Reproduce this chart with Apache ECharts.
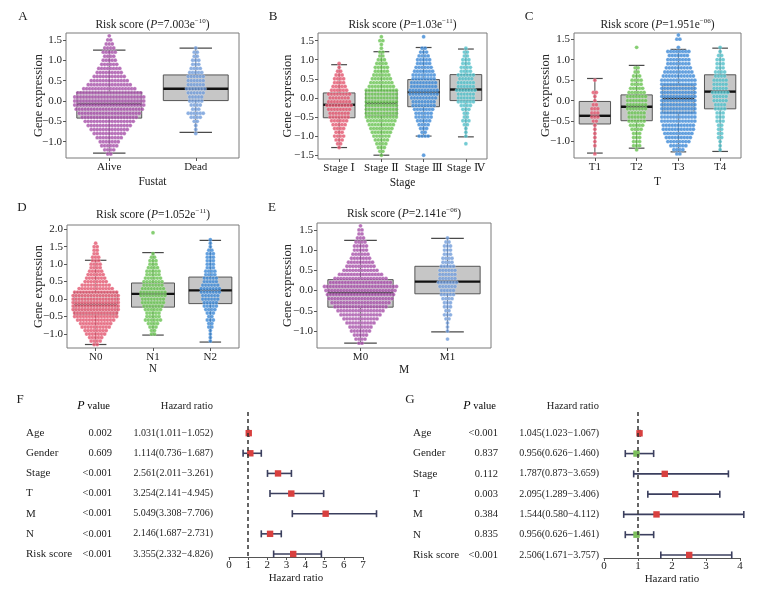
<!DOCTYPE html>
<html>
<head>
<meta charset="utf-8">
<script src="https://cdn.jsdelivr.net/npm/echarts@6.0.0/dist/echarts.min.js"></script>
<style>
html,body{margin:0;padding:0;background:#ffffff;}
#chart{width:762px;height:592px;}
</style>
</head>
<body>
<div id="chart"></div>
<script>
// ================= DATA =================
// Swarm data: number of samples in each 0.1-wide risk-score bin, bins centred at -1.6, -1.5, ... 1.9
const binLow = -1.6;
const binStep = 0.1;

// Panel A – Fustat
const catsA = ['Alive', 'Dead'];
const countsAlive = [0,0,0,2,4,6,7,9,11,13, 15,17,19,21,23,24,24,24,22,18, 15,13,11,9,8,6,5,4,5,4, 3,2,1,0,0,0];
const countsDead  = [0,0,0,0,0,0,0,0,1,1, 1,2,4,6,3,4,5,5,6,7, 6,6,6,5,4,3,3,2,2,1, 0,0,0,0,0,0];
const boxAlive = [-1.28, -0.42, -0.07, 0.22, 1.25];   // min, Q1, median, Q3, max
const boxDead  = [-0.77, 0.01, 0.30, 0.64, 1.30];

// Panel B – Stage
const catsB = ['Stage Ⅰ', 'Stage Ⅱ', 'Stage Ⅲ', 'Stage Ⅳ'];
const countsStage1 = [0,0,0,1,2,3,4,3,4,5, 6,7,7,8,9,8,7,8,6,5, 4,4,3,2,1,1,0,0,0,0, 0,0,0,0,0,0];
const countsStage2 = [0,1,2,3,4,5,6,7,8,9, 10,11,11,11,11,11,11,11,11,9, 8,7,6,5,5,4,3,2,2,1, 1,2,1,0,0,0];
const countsStage3 = [0,1,0,0,0,0,4,2,3,4, 5,6,6,7,8,8,9,10,10,9, 9,8,8,7,6,5,5,4,3,2, 0,0,1,0,0,0];
const countsStage4 = [0,0,0,0,1,0,1,1,1,2, 3,2,2,3,4,6,6,6,7,6, 6,5,6,4,4,3,3,2,2,1, 0,0,0,0,0,0];
const boxStage1 = [-1.30, -0.52, -0.18, 0.13, 0.87];
const boxStage2 = [-1.50, -0.47, -0.14, 0.19, 1.21];
const boxStage3 = [-1.00, -0.23, 0.15, 0.48, 1.32];
const boxStage4 = [-1.02, -0.07, 0.22, 0.61, 1.28];

// Panel C – T
const catsC = ['T1', 'T2', 'T3', 'T4'];
const countsT1 = [0,0,0,1,0,1,1,1,1,1, 1,2,3,3,3,2,1,1,2,0, 0,1,0,0,0,0,0,0,0,0, 0,0,0,0,0,0];
const countsT2 = [0,0,0,0,1,3,3,3,3,4, 5,6,6,6,7,7,7,7,6,5, 4,4,3,2,2,0,0,0,0,1, 0,0,0,0,0,0];
const countsT3 = [0,0,0,2,4,6,8,9,10,11, 11,12,12,12,12,12,12,12,12,12, 12,12,11,10,9,8,8,7,8,1, 0,2,1,0,0,0];
const countsT4 = [0,0,0,0,1,1,1,2,2,2, 2,3,3,3,4,4,5,5,6,5, 5,5,4,4,3,3,3,2,1,1, 0,0,0,0,0,0];
const boxT1 = [-1.28, -0.57, -0.37, -0.02, 0.54];
const boxT2 = [-1.16, -0.49, -0.15, 0.14, 0.86];
const boxT3 = [-1.25, -0.30, 0.05, 0.38, 1.25];
const boxT4 = [-1.24, -0.20, 0.22, 0.63, 1.28];

// Panel D – N
const catsD = ['N0', 'N1', 'N2'];
const countsN0 = [0,0,0,2,4,5,7,8,10,11, 13,15,15,16,16,16,16,16,15,12, 10,8,7,6,5,4,4,3,3,2, 2,2,1,0,0,0];
const countsN1 = [0,0,0,0,0,0,2,2,3,4, 6,5,5,6,7,8,8,9,9,8, 7,7,6,5,5,4,3,3,2,1, 0,0,0,0,0,1];
const countsN2 = [0,0,0,0,1,1,1,1,2,2, 3,2,3,4,5,5,6,6,7,7, 6,5,5,4,4,3,3,3,3,3, 2,1,1,1,0,0];
const boxN0 = [-1.30, -0.45, -0.16, 0.20, 1.11];
const boxN1 = [-1.03, -0.23, 0.15, 0.46, 1.33];
const boxN2 = [-1.23, -0.13, 0.25, 0.63, 1.68];

// Panel E – M
const catsE = ['M0', 'M1'];
const countsM0 = [0,0,0,2,4,5,7,8,10,12, 14,16,18,20,22,23,24,25,21,18, 15,12,10,9,7,6,5,5,4,3, 2,2,1,0,0,0];
const countsM1 = [0,0,0,0,1,0,1,1,1,2, 3,2,3,3,4,5,5,6,7,6, 6,6,5,4,4,3,3,3,2,1, 0,0,0,0,0,0];
const boxM0 = [-1.30, -0.41, -0.06, 0.27, 1.24];
const boxM1 = [-1.02, -0.08, 0.22, 0.60, 1.29];

// Titles (P values)
const titlePMant = ['7.003', '1.03', '1.951', '1.052', '2.141'];
const titlePExp  = ['−10', '−11', '−06', '−11', '−06'];

// Y tick labels
const yTicksA = [-1.0, -0.5, 0.0, 0.5, 1.0, 1.5];
const yTicksB = [-1.5, -1.0, -0.5, 0.0, 0.5, 1.0, 1.5];
const yTicksC = [-1.0, -0.5, 0.0, 0.5, 1.0, 1.5];
const yTicksD = [-1.0, -0.5, 0.0, 0.5, 1.0, 1.5, 2.0];
const yTicksE = [-1.0, -0.5, 0.0, 0.5, 1.0, 1.5];

// Forest plots
const forestVars = ['Age', 'Gender', 'Stage', 'T', 'M', 'N', 'Risk score'];
const uniP  = ['0.002', '0.609', '<0.001', '<0.001', '<0.001', '<0.001', '<0.001'];
const uniHR = [1.031, 1.114, 2.561, 3.254, 5.049, 2.146, 3.355];
const uniLo = [1.011, 0.736, 2.011, 2.141, 3.308, 1.687, 2.332];
const uniHi = [1.052, 1.687, 3.261, 4.945, 7.706, 2.731, 4.826];
const multiP  = ['<0.001', '0.837', '0.112', '0.003', '0.384', '0.835', '<0.001'];
const multiHR = [1.045, 0.956, 1.787, 2.095, 1.544, 0.956, 2.506];
const multiLo = [1.023, 0.626, 0.873, 1.289, 0.580, 0.626, 1.671];
const multiHi = [1.067, 1.460, 3.659, 3.406, 4.112, 1.461, 3.757];
const uniXTicks = [0, 1, 2, 3, 4, 5, 6, 7];
const multiXTicks = [0, 1, 2, 3, 4];

// ================= STYLE / LAYOUT =================
const FONT = "'Liberation Serif','DejaVu Serif','Noto Sans CJK SC',serif";
const TXT = '#222222';
const COL = {
  purple: '#a54ea8', lblue: '#6f9bd9', red: '#e2546d', green: '#66c24f',
  blue: '#3a87d6', cyan: '#4fbec8'
};
const DOT_GAP = 3.0;     // px between neighbouring dots in a swarm row
const DOT_SIZE = 3.9;

const panels = [
  {grid:{left:66, top:33, width:173, height:125}, ymin:-1.40, ymax:1.67, cats:catsA,
   counts:[countsAlive, countsDead], boxes:[boxAlive, boxDead], colors:[COL.purple, COL.lblue],
   yticks:yTicksA, xname:'Fustat', xGap:18, yGap:21, title:[152.5, 25], letter:['A', 23, 17]},
  {grid:{left:318, top:33, width:169, height:126}, ymin:-1.60, ymax:1.70, cats:catsB,
   counts:[countsStage1, countsStage2, countsStage3, countsStage4],
   boxes:[boxStage1, boxStage2, boxStage3, boxStage4], colors:[COL.red, COL.green, COL.blue, COL.cyan],
   yticks:yTicksB, xname:'Stage', xGap:18, yGap:24, title:[402.5, 25], letter:['B', 273, 17]},
  {grid:{left:574, top:33, width:167, height:125}, ymin:-1.40, ymax:1.65, cats:catsC,
   counts:[countsT1, countsT2, countsT3, countsT4], boxes:[boxT1, boxT2, boxT3, boxT4],
   colors:[COL.red, COL.green, COL.blue, COL.cyan],
   yticks:yTicksC, xname:'T', xGap:18, yGap:22.5, title:[657.5, 25], letter:['C', 529, 17]},
  {grid:{left:67, top:225, width:172, height:123}, ymin:-1.40, ymax:2.12, cats:catsD,
   counts:[countsN0, countsN1, countsN2], boxes:[boxN0, boxN1, boxN2],
   colors:[COL.red, COL.green, COL.blue],
   yticks:yTicksD, xname:'N', xGap:15, yGap:22.5, title:[153, 215], letter:['D', 22, 208]},
  {grid:{left:317, top:223, width:174, height:125}, ymin:-1.42, ymax:1.67, cats:catsE,
   counts:[countsM0, countsM1], boxes:[boxM0, boxM1], colors:[COL.purple, COL.lblue],
   yticks:yTicksE, xname:'M', xGap:16, yGap:23, title:[404, 214], letter:['E', 272, 208]}
];

function fmtTick(v) {
  const a = Math.abs(v).toFixed(1);
  return (v < -1e-9 ? '−' : '') + a;
}

// swarm layout: dots of one bin placed side by side around the category centre
function swarm(counts, cat, catW) {
  const pts = [];
  counts.forEach((c, i) => {
    const y = +(binLow + i * binStep).toFixed(2);
    for (let k = 0; k < c; k++) {
      const offPx = (k - (c - 1) / 2) * DOT_GAP;
      pts.push([cat + offPx / catW, y]);
    }
  });
  return pts;
}

function renderBox(params, api) {
  const x = api.value(0);
  const pMin = api.coord([x, api.value(1)]);
  const pQ1 = api.coord([x, api.value(2)]);
  const pMed = api.coord([x, api.value(3)]);
  const pQ3 = api.coord([x, api.value(4)]);
  const pMax = api.coord([x, api.value(5)]);
  const w = api.size([1, 0])[0] * 0.75;
  const cx = pMed[0];
  const wc = '#4a4a4a';
  return {
    type: 'group',
    children: [
      {type:'line', shape:{x1:cx, y1:pMin[1], x2:cx, y2:pQ1[1]}, style:{stroke:wc, lineWidth:1}},
      {type:'line', shape:{x1:cx, y1:pQ3[1], x2:cx, y2:pMax[1]}, style:{stroke:wc, lineWidth:1}},
      {type:'line', shape:{x1:cx - w/4, y1:pMin[1], x2:cx + w/4, y2:pMin[1]}, style:{stroke:wc, lineWidth:1.2}},
      {type:'line', shape:{x1:cx - w/4, y1:pMax[1], x2:cx + w/4, y2:pMax[1]}, style:{stroke:wc, lineWidth:1.2}},
      {type:'rect', shape:{x:cx - w/2, y:pQ3[1], width:w, height:pQ1[1] - pQ3[1]},
       style:{fill:'#c6c6c6', stroke:'#555555', lineWidth:1}},
      {type:'line', shape:{x1:cx - w/2, y1:pMed[1], x2:cx + w/2, y2:pMed[1]}, style:{stroke:'#111111', lineWidth:2.4}}
    ]
  };
}

const grids = [], xAxes = [], yAxes = [], series = [], graphics = [];

panels.forEach((p, g) => {
  grids.push({left:p.grid.left, top:p.grid.top, width:p.grid.width, height:p.grid.height,
    show:true, borderColor:'#7a7a7a', borderWidth:1, backgroundColor:'rgba(0,0,0,0)'});
  xAxes.push({type:'category', gridIndex:g, data:p.cats, boundaryGap:true, position:'bottom',
    name:p.xname, nameLocation:'middle', nameGap:p.xGap, nameMoveOverlap:false,
    nameTextStyle:{fontFamily:FONT, fontSize:11.5, color:TXT},
    axisLine:{show:false, onZero:false},
    axisTick:{show:true, alignWithLabel:true, length:3, lineStyle:{color:'#555'}},
    axisLabel:{fontFamily:FONT, fontSize:11, color:TXT, margin:4, interval:0},
    splitLine:{show:false}});
  xAxes.push({type:'value', gridIndex:g, min:-0.5, max:p.cats.length - 0.5, show:false,
    axisLine:{onZero:false}, splitLine:{show:false}});
  yAxes.push({type:'value', gridIndex:g, min:p.ymin, max:p.ymax, position:'left',
    name:'Gene expression', nameLocation:'middle', nameGap:p.yGap, nameMoveOverlap:false,
    nameTextStyle:{fontFamily:FONT, fontSize:12.5, color:TXT},
    axisLine:{show:false, onZero:false},
    axisTick:{show:true, length:3, customValues:p.yticks, lineStyle:{color:'#555'}},
    axisLabel:{customValues:p.yticks, formatter:fmtTick, fontFamily:FONT, fontSize:11, color:TXT, margin:4},
    splitLine:{show:false}});
  series.push({type:'custom', xAxisIndex:2*g, yAxisIndex:g, renderItem:renderBox, silent:true, z:1,
    encode:{x:0, y:[1,2,3,4,5]},
    data:p.boxes.map((b, i) => [i].concat(b))});
  const catW = p.grid.width / p.cats.length;
  p.counts.forEach((c, i) => {
    series.push({type:'scatter', xAxisIndex:2*g + 1, yAxisIndex:g, silent:true, z:3,
      symbol:'circle', symbolSize:DOT_SIZE,
      itemStyle:{color:p.colors[i], borderColor:'rgba(255,255,255,0.55)', borderWidth:0.5},
      data:swarm(c, i, catW)});
  });
  // title with italic P and superscript exponent
  graphics.push({type:'text', x:p.title[0], y:p.title[1], silent:true,
    style:{text:'{a|Risk score (}{i|P}{a|=' + titlePMant[g] + 'e}{s|' + titlePExp[g] + '}{a|)}',
      align:'center', verticalAlign:'middle', textAlign:'center', textVerticalAlign:'middle',
      fill:TXT,
      rich:{
        a:{fontFamily:FONT, fontSize:11.5, lineHeight:14, color:TXT},
        i:{fontFamily:FONT, fontSize:11.5, lineHeight:14, fontStyle:'italic', color:TXT},
        s:{fontFamily:FONT, fontSize:7, lineHeight:8, verticalAlign:'top', color:TXT}
      }}});
  graphics.push({type:'text', x:p.letter[1], y:p.letter[2], silent:true,
    style:{text:p.letter[0], font:'13px ' + FONT, fill:TXT, align:'center', verticalAlign:'middle',
      textAlign:'center', textVerticalAlign:'middle'}});
});

// ================= FOREST PLOTS =================
const RED = '#d8403f', GREEN = '#7cbf5c', NAVY = '#3b3f5e';
function renderForest(params, api) {
  const row = api.value(0), hr = api.value(1), lo = api.value(2), hi = api.value(3);
  const pL = api.coord([lo, row]), pH = api.coord([hi, row]), pM = api.coord([hr, row]);
  const col = hr < 1 ? GREEN : RED;
  const st = {stroke:NAVY, lineWidth:1.6};
  return {type:'group', children:[
    {type:'line', shape:{x1:pL[0], y1:pL[1], x2:pH[0], y2:pH[1]}, style:st},
    {type:'line', shape:{x1:pL[0], y1:pL[1] - 3.5, x2:pL[0], y2:pL[1] + 3.5}, style:st},
    {type:'line', shape:{x1:pH[0], y1:pH[1] - 3.5, x2:pH[0], y2:pH[1] + 3.5}, style:st},
    {type:'rect', shape:{x:pM[0] - 3.2, y:pM[1] - 3.2, width:6.4, height:6.4}, style:{fill:col}}
  ]};
}

const forests = [
  {grid:{left:229, top:412, width:134, height:145}, xmax:7, ticks:uniXTicks,
   hr:uniHR, lo:uniLo, hi:uniHi, p:uniP,
   labelX:26, pRight:112, hrRight:213, pHeadRight:110, letter:['F', 20, 400]},
  {grid:{left:604, top:412, width:136, height:146}, xmax:4, ticks:multiXTicks,
   hr:multiHR, lo:multiLo, hi:multiHi, p:multiP,
   labelX:413, pRight:498, hrRight:599, pHeadRight:496, letter:['G', 410, 400]}
];
const ROW_MIN = -1.05, ROW_MAX = 6.15;

forests.forEach((f, k) => {
  const g = panels.length + k;
  grids.push({left:f.grid.left, top:f.grid.top, width:f.grid.width, height:f.grid.height, show:false});
  const xi = xAxes.length;
  xAxes.push({type:'value', gridIndex:g, min:0, max:f.xmax, interval:1, position:'bottom',
    name:'Hazard ratio', nameLocation:'middle', nameGap:16, nameMoveOverlap:false,
    nameTextStyle:{fontFamily:FONT, fontSize:11, color:TXT},
    axisLine:{show:true, onZero:false, lineStyle:{color:'#555', width:1}},
    axisTick:{show:true, length:3, lineStyle:{color:'#555'}},
    axisLabel:{customValues:f.ticks, fontFamily:FONT, fontSize:11, color:TXT, margin:3},
    splitLine:{show:false}});
  yAxes.push({type:'value', gridIndex:g, min:ROW_MIN, max:ROW_MAX, inverse:true, show:false,
    axisLine:{onZero:false}, splitLine:{show:false}});
  series.push({type:'custom', xAxisIndex:xi, yAxisIndex:yAxes.length - 1, silent:true, z:3,
    renderItem:renderForest, encode:{x:[1,2,3], y:0},
    data:forestVars.map((v, i) => [i, f.hr[i], f.lo[i], f.hi[i]]),
    markLine:{silent:true, symbol:'none', label:{show:false}, animation:false,
      lineStyle:{type:[4, 3], color:'#333', width:1.5},
      data:[{xAxis:1}]}});

  const rowY = i => f.grid.top + (i - ROW_MIN) / (ROW_MAX - ROW_MIN) * f.grid.height;
  const txt = (x, y, s, align, size, extra) => graphics.push({type:'text', x:x, y:y, silent:true,
    style:Object.assign({text:s, fontFamily:FONT, fontSize:size, fill:TXT, align:align, verticalAlign:'middle',
      textAlign:align, textVerticalAlign:'middle'}, extra || {})});
  txt(f.letter[1], f.letter[2], f.letter[0], 'center', 13);
  graphics.push({type:'text', x:f.pHeadRight, y:406, silent:true,
    style:{text:'{i|P}{a| value}', align:'right', verticalAlign:'middle', textAlign:'right', textVerticalAlign:'middle',
      rich:{i:{fontFamily:FONT, fontSize:12, fontStyle:'italic', color:TXT},
            a:{fontFamily:FONT, fontSize:10.5, color:TXT}}}});
  txt(f.hrRight, 406, 'Hazard ratio', 'right', 10.5);
  forestVars.forEach((v, i) => {
    const y = rowY(i);
    txt(f.labelX, y, v, 'left', 11);
    txt(f.pRight, y, f.p[i], 'right', 10.5);
    txt(f.hrRight, y, f.hr[i].toFixed(3) + '(' + f.lo[i].toFixed(3) + '−' + f.hi[i].toFixed(3) + ')', 'right', 10);
  });
});

const chart = echarts.init(document.getElementById('chart'), null, {renderer:'canvas'});
chart.setOption({
  animation:false,
  backgroundColor:'#ffffff',
  textStyle:{fontFamily:FONT},
  grid:grids, xAxis:xAxes, yAxis:yAxes, series:series, graphic:graphics
});
</script>
</body>
</html>
